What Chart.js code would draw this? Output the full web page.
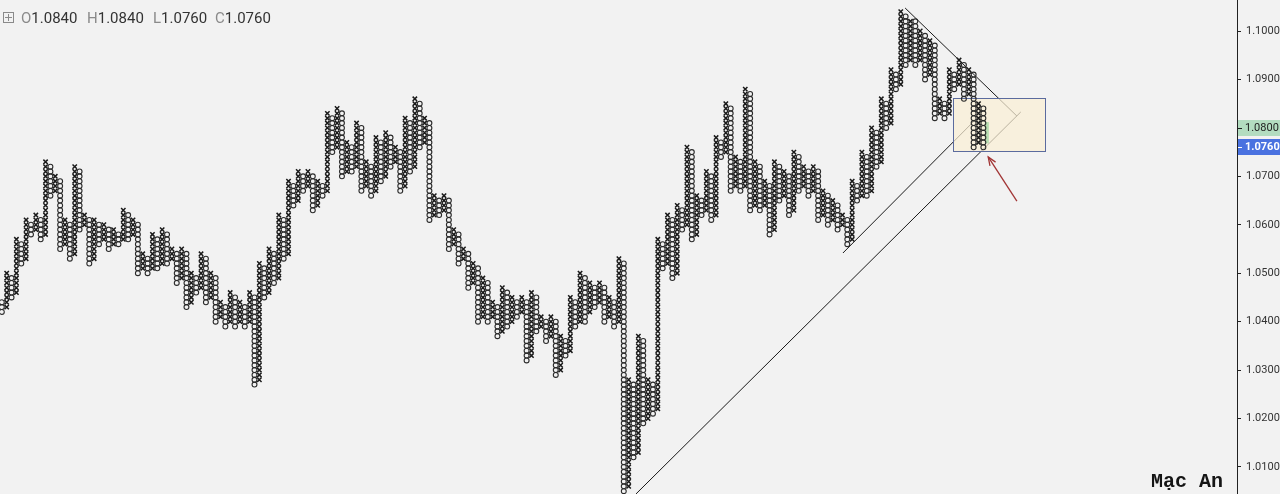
<!DOCTYPE html>
<html>
<head>
<meta charset="utf-8">
<script src="https://cdn.jsdelivr.net/npm/chart.js@4.4.1/dist/chart.umd.min.js"></script>
<style>
  html, body { margin:0; padding:0; background:#f2f2f2; overflow:hidden; }
  #wrap { position:relative; width:1280px; height:494px; }
  canvas { position:absolute; left:0; top:0; }
  .hdr { position:absolute; top:9px; font-family:Roboto, "Noto Sans", sans-serif; font-size:15px; color:#333; white-space:nowrap; }
  .hdr .k { color:#8a8a8a; }
  #icon { position:absolute; left:3px; top:12px; width:9px; height:9px; border:1px solid #8a8a8a; }
  #icon:before { content:""; position:absolute; left:4px; top:1px; width:1px; height:7px; background:#8a8a8a; }
  #icon:after { content:""; position:absolute; left:1px; top:4px; width:7px; height:1px; background:#8a8a8a; }
  #wm { position:absolute; left:1151px; top:470px; font-family:"Liberation Mono", "DejaVu Sans Mono", monospace; font-size:20px; font-weight:bold; color:#151515; }
</style>
</head>
<body>
<div id="wrap">
  <canvas id="c" width="1280" height="494"></canvas>
  <div id="icon"></div>
  <div class="hdr" style="left:21px"><span class="k">O</span>1.0840</div>
  <div class="hdr" style="left:87px"><span class="k">H</span>1.0840</div>
  <div class="hdr" style="left:153px"><span class="k">L</span>1.0760</div>
  <div class="hdr" style="left:215px"><span class="k">C</span>1.0760</div>
  <div id="wm">Mạc An</div>
</div>
<script>
// ---- data (box size 0.0010, 3-box reversal point & figure) ----
const BOX = 0.001;
// even columns = O (falling), odd columns = X (rising)
const colLow = [
1.042,1.043,1.045,1.046,1.052,1.053,1.058,1.059,1.057,1.058,
1.066,1.067,1.055,1.056,1.053,1.054,1.059,1.060,1.052,1.053,
1.056,1.057,1.055,1.056,1.056,1.057,1.057,1.058,1.050,1.051,
1.050,1.051,1.051,1.052,1.052,1.053,1.048,1.049,1.043,1.044,
1.046,1.047,1.044,1.045,1.040,1.041,1.039,1.040,1.039,1.040,
1.039,1.040,1.027,1.028,1.045,1.046,1.048,1.049,1.053,1.054,
1.064,1.065,1.067,1.068,1.063,1.064,1.066,1.067,1.075,1.076,
1.070,1.071,1.071,1.072,1.067,1.068,1.066,1.067,1.069,1.070,
1.072,1.073,1.067,1.068,1.071,1.072,1.076,1.077,1.061,1.062,
1.062,1.063,1.055,1.056,1.052,1.053,1.047,1.048,1.040,1.041,
1.040,1.041,1.037,1.038,1.039,1.040,1.041,1.042,1.032,1.033,
1.038,1.039,1.036,1.037,1.029,1.030,1.033,1.034,1.039,1.040,
1.040,1.042,1.043,1.044,1.040,1.041,1.039,1.040,1.005,1.006,
1.012,1.013,1.019,1.020,1.021,1.022,1.051,1.052,1.049,1.050,
1.059,1.060,1.057,1.058,1.062,1.063,1.061,1.062,1.074,1.075,
1.067,1.068,1.067,1.068,1.063,1.064,1.063,1.064,1.058,1.059,
1.065,1.066,1.062,1.063,1.067,1.068,1.066,1.067,1.061,1.062,
1.060,1.061,1.059,1.060,1.056,1.057,1.065,1.066,1.066,1.067,
1.072,1.073,1.080,1.081,1.088,1.089,1.093,1.094,1.093,1.094,
1.090,1.091,1.082,1.083,1.082,1.083,1.088,1.089,1.086,1.087,
1.076,1.077,1.076];
const colHigh = [
1.044,1.050,1.049,1.057,1.056,1.061,1.060,1.062,1.061,1.073,
1.072,1.070,1.069,1.061,1.060,1.072,1.071,1.062,1.061,1.061,
1.060,1.060,1.059,1.059,1.058,1.063,1.062,1.061,1.060,1.054,
1.053,1.058,1.057,1.059,1.058,1.055,1.054,1.055,1.054,1.050,
1.049,1.054,1.053,1.050,1.049,1.044,1.043,1.046,1.045,1.044,
1.043,1.046,1.045,1.052,1.051,1.055,1.054,1.062,1.061,1.069,
1.068,1.071,1.070,1.071,1.070,1.069,1.068,1.083,1.082,1.084,
1.083,1.077,1.076,1.081,1.080,1.073,1.072,1.078,1.077,1.079,
1.078,1.076,1.075,1.082,1.081,1.086,1.085,1.082,1.081,1.066,
1.065,1.066,1.065,1.059,1.058,1.055,1.054,1.052,1.051,1.049,
1.048,1.044,1.043,1.047,1.046,1.045,1.044,1.045,1.044,1.046,
1.045,1.041,1.040,1.041,1.040,1.037,1.036,1.045,1.044,1.050,
1.049,1.048,1.047,1.048,1.047,1.045,1.044,1.053,1.052,1.028,
1.027,1.037,1.036,1.028,1.027,1.057,1.056,1.062,1.061,1.064,
1.063,1.076,1.075,1.066,1.065,1.071,1.070,1.078,1.077,1.085,
1.084,1.074,1.073,1.088,1.087,1.073,1.072,1.069,1.068,1.073,
1.072,1.071,1.070,1.075,1.074,1.072,1.071,1.072,1.071,1.067,
1.066,1.065,1.064,1.062,1.061,1.069,1.068,1.075,1.074,1.080,
1.079,1.086,1.085,1.092,1.091,1.104,1.103,1.102,1.102,1.100,
1.099,1.098,1.097,1.086,1.085,1.092,1.091,1.094,1.093,1.092,
1.091,1.085,1.084];
const tickValues = [1.01,1.02,1.03,1.04,1.05,1.06,1.07,1.08,1.09,1.10];
// drawn trend lines, in (column, price)
const trendStartCol = [185.9, 173.1, 130.5];
const trendStartPrice = [1.10475, 1.05417, 1.00442];
const trendEndCol = [208.9, 200.3, 209.7];
const trendEndPrice = [1.08245, 1.08163, 1.08328];
// highlighted zone (columns / prices)
const zoneCols = [195.8, 214.7];
const zonePrices = [1.07523, 1.08617];
// arrow: from tail to head
const arrowCols = [208.9, 203.0];
const arrowPrices = [1.0649, 1.0740];
// price labels on axis
const lastClose = 1.0760;
const markPrice = 1.0800;

// ---- build points ----
const xPts = [], oPts = [];
for (let k = 0; k < colLow.length; k++) {
  const n = Math.round((colHigh[k] - colLow[k]) / BOX);
  for (let i = 0; i <= n; i++) {
    const p = { x: k, y: +(colLow[k] + i * BOX).toFixed(4) };
    (k % 2 === 0 ? oPts : xPts).push(p);
  }
}

const bgPlugin = {
  id: 'bg',
  beforeDraw(chart) {
    const c = chart.ctx;
    c.save(); c.fillStyle = '#f2f2f2'; c.fillRect(0, 0, chart.width, chart.height); c.restore();
  }
};

const overlayPlugin = {
  id: 'overlay',
  beforeDatasetsDraw(chart) {
    const c = chart.ctx, xs = chart.scales.x, ys = chart.scales.y;
    c.save();
    c.strokeStyle = '#1a1a1a'; c.lineWidth = 1;
    for (let i = 0; i < trendStartCol.length; i++) {
      c.beginPath();
      c.moveTo(xs.getPixelForValue(trendStartCol[i]), ys.getPixelForValue(trendStartPrice[i]));
      c.lineTo(xs.getPixelForValue(trendEndCol[i]), ys.getPixelForValue(trendEndPrice[i]));
      c.stroke();
    }
    const x1 = xs.getPixelForValue(zoneCols[0]), x2 = xs.getPixelForValue(zoneCols[1]);
    const y1 = ys.getPixelForValue(zonePrices[1]), y2 = ys.getPixelForValue(zonePrices[0]);
    c.fillStyle = 'rgba(250,238,212,0.72)';
    c.fillRect(x1, y1, x2 - x1, y2 - y1);
    c.strokeStyle = '#5b6b9e'; c.lineWidth = 1;
    c.strokeRect(Math.round(x1) + 0.5, Math.round(y1) + 0.5, Math.round(x2 - x1), Math.round(y2 - y1));
    // green marker on current column
    const gx = xs.getPixelForValue(202.3), gy1 = ys.getPixelForValue(1.0812), gy2 = ys.getPixelForValue(1.0768);
    c.fillStyle = 'rgba(130,205,140,0.55)';
    c.fillRect(gx, gy1, 4, gy2 - gy1);
    c.restore();
  },
  afterDatasetsDraw(chart) {
    const c = chart.ctx, xs = chart.scales.x, ys = chart.scales.y;
    const tx = xs.getPixelForValue(arrowCols[0]), ty = ys.getPixelForValue(arrowPrices[0]);
    const hx = xs.getPixelForValue(arrowCols[1]), hy = ys.getPixelForValue(arrowPrices[1]);
    c.save();
    c.strokeStyle = '#a23535'; c.lineWidth = 1.3;
    c.beginPath(); c.moveTo(tx, ty); c.lineTo(hx, hy); c.stroke();
    const a = Math.atan2(hy - ty, hx - tx), L = 9;
    c.beginPath();
    c.moveTo(hx - L * Math.cos(a - 0.38), hy - L * Math.sin(a - 0.38));
    c.lineTo(hx, hy);
    c.lineTo(hx - L * Math.cos(a + 0.38), hy - L * Math.sin(a + 0.38));
    c.stroke();
    c.restore();
  },
  afterDraw(chart) {
    const c = chart.ctx, ys = chart.scales.y;
    const left = ys.left;
    const items = [
      { v: markPrice, bg: '#b3dcc0', fg: '#1e1e1e', bold: false },
      { v: lastClose, bg: '#4a72e0', fg: '#ffffff', bold: true }
    ];
    c.save();
    for (const it of items) {
      const y = ys.getPixelForValue(it.v);
      c.fillStyle = it.bg;
      c.fillRect(left + 1, Math.round(y) - 8, chart.width - left, 16);
      c.strokeStyle = it.fg; c.lineWidth = 1;
      c.beginPath(); c.moveTo(left + 1, Math.round(y) + 0.5); c.lineTo(left + 5, Math.round(y) + 0.5); c.stroke();
      c.fillStyle = it.fg;
      c.font = (it.bold ? 'bold ' : '') + '11px Roboto';
      c.textBaseline = 'middle'; c.textAlign = 'left';
      c.fillText(it.v.toFixed(4), left + 8, y);
    }
    c.restore();
  }
};

new Chart(document.getElementById('c'), {
  type: 'scatter',
  data: {
    datasets: [
      { label: 'O', data: oPts, pointStyle: 'circle', pointRadius: 2.45, pointBorderWidth: 1.1,
        borderColor: '#2a2a2a', backgroundColor: 'rgba(0,0,0,0)', pointHoverRadius: 2.45 },
      { label: 'X', data: xPts, pointStyle: 'crossRot', pointRadius: 3.1, pointBorderWidth: 1.5,
        borderColor: '#1a1a1a', backgroundColor: '#1a1a1a', pointHoverRadius: 3.1 }
    ]
  },
  options: {
    responsive: false,
    devicePixelRatio: 1,
    animation: false,
    events: [],
    layout: { padding: 0, autoPadding: false },
    plugins: { legend: { display: false }, tooltip: { enabled: false } },
    scales: {
      x: { type: 'linear', display: false, min: -0.375, max: 254.2 },
      y: {
        type: 'linear', position: 'right', min: 1.00442, max: 1.1064,
        afterBuildTicks(s) { s.ticks = tickValues.map(v => ({ value: v })); },
        afterFit(s) { s.width = 43; s.paddingTop = 0; s.paddingBottom = 0; },
        border: { display: true, color: '#222', width: 1 },
        grid: { drawOnChartArea: false, drawTicks: true, tickLength: 4, color: '#222' },
        ticks: { padding: 5, color: '#333', font: { family: 'Roboto', size: 11 },
                 callback: v => Number(v).toFixed(4) }
      }
    }
  },
  plugins: [bgPlugin, overlayPlugin]
});
</script>
</body>
</html>
